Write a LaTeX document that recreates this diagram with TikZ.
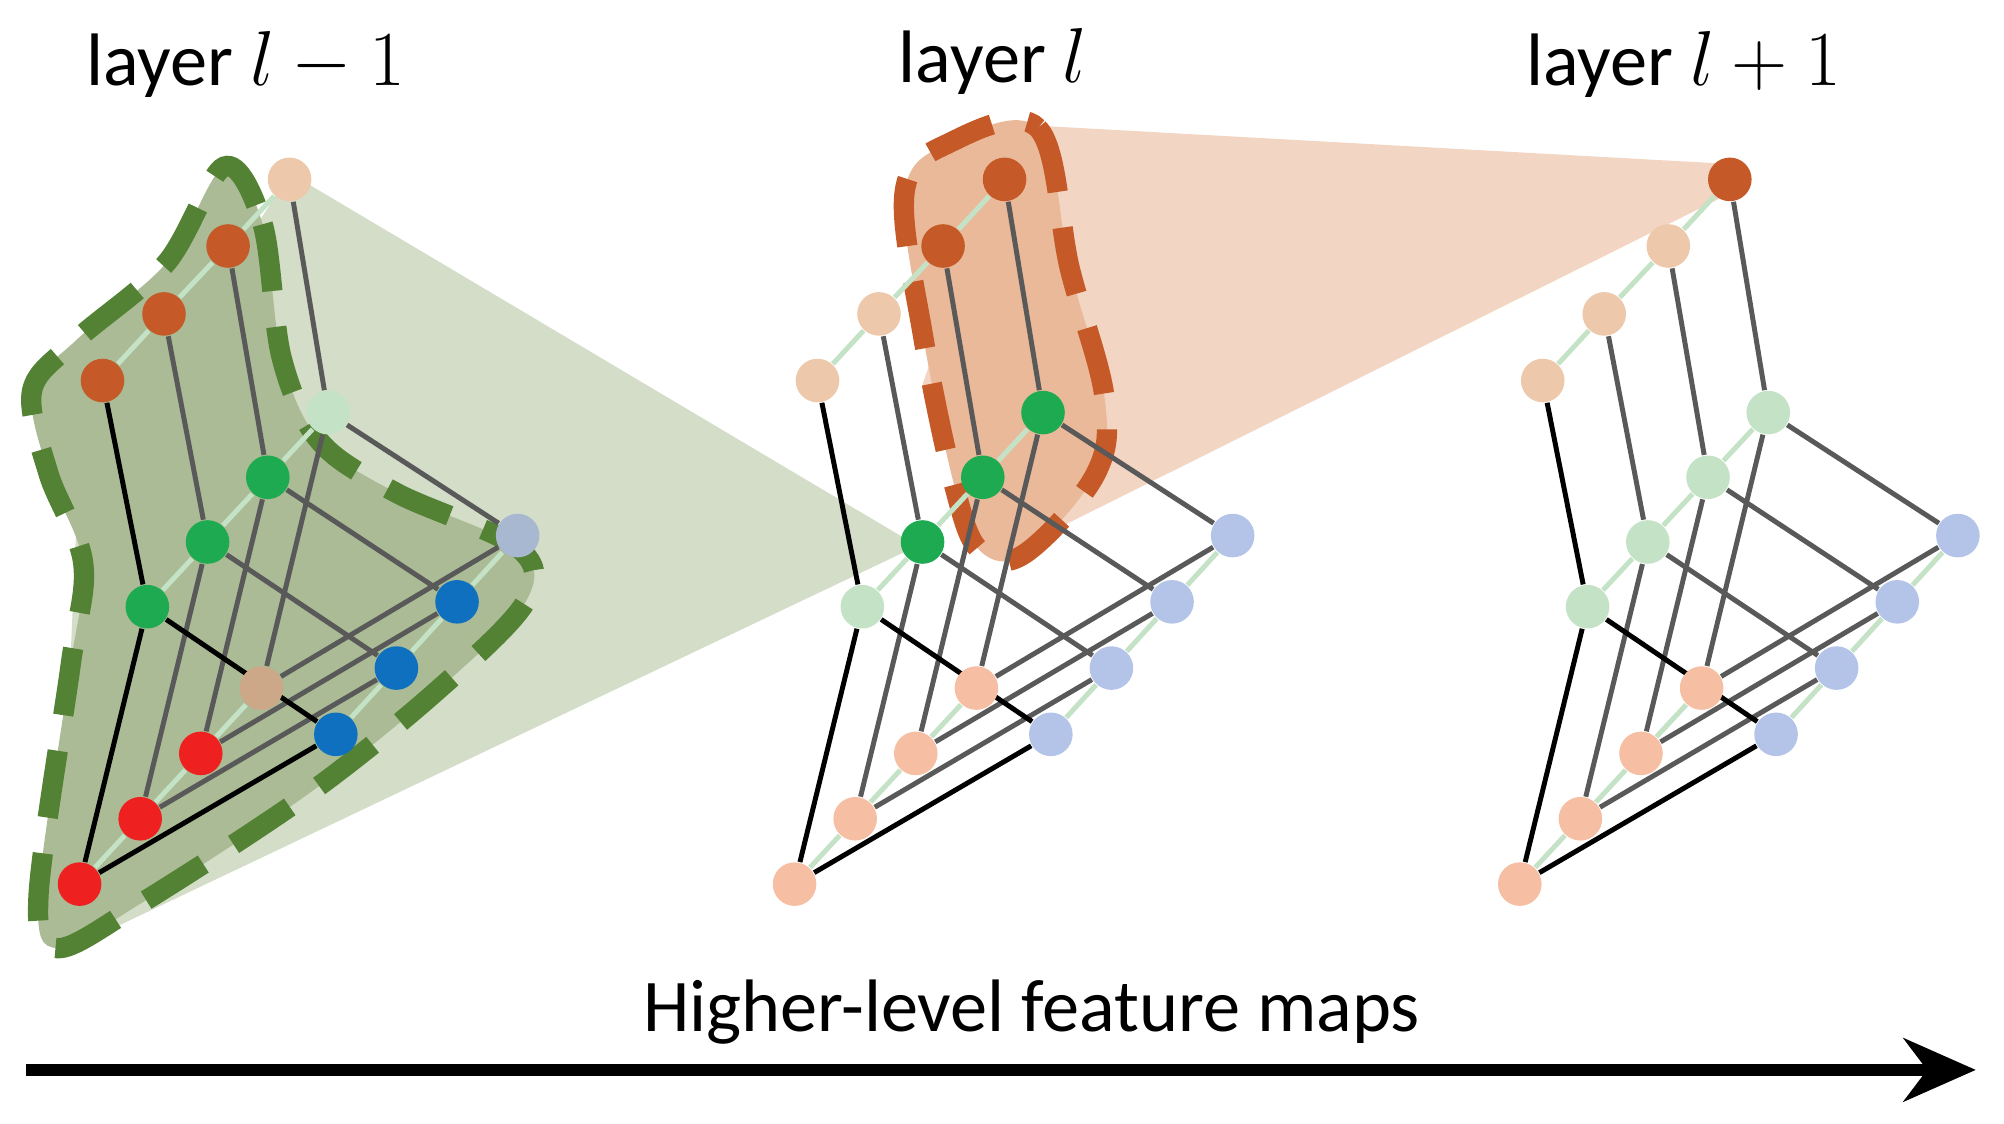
\documentclass[tikz,border=0pt]{standalone}
\usepackage{fontspec}
\setmainfont{Carlito}
\usetikzlibrary{arrows.meta,backgrounds}
\definecolor{OR}{HTML}{C55A28}\definecolor{PE}{HTML}{EDC8AA}
\definecolor{GR}{HTML}{1DAA50}\definecolor{LG}{HTML}{C4E2C6}
\definecolor{BL}{HTML}{1070C0}\definecolor{LB}{HTML}{B4C4E8}
\definecolor{RE}{HTML}{EE2020}\definecolor{PR}{HTML}{F6BFA4}
\definecolor{TA}{HTML}{CCA888}\definecolor{GB}{HTML}{A8B8D0}
\definecolor{LGR}{HTML}{D3DDC8}\definecolor{DGR}{HTML}{AABB95}\definecolor{DG}{HTML}{548235}
\definecolor{LOR}{HTML}{F2D5C2}\definecolor{MOR}{HTML}{E9B99A}
\tikzset{pt/.style={circle,minimum size=0.34cm,inner sep=0pt,fill=#1},
 ed/.style={line width=1.1pt,draw=black!65},
 edb/.style={line width=1.1pt,draw=black},
 ch/.style={line width=1.1pt,draw=LG},
 blob/.style={line width=4.5pt,dash pattern=on 15pt off 8pt}}
\newcommand\lay[6]{%
 \foreach \c [count=\i] in {#3}{\pgfmathsetmacro\x{#2+(226-48*(\i-1)-(\i>2)*2)}\pgfmathsetmacro\y{140+52*(\i-1)+(\i>2)*1}\node[pt=\c] (#1t\i) at (\x,\y) {};}
 \foreach \c [count=\i] in {#4}{\pgfmathsetmacro\x{#2+256-47*(\i-1)}\pgfmathsetmacro\y{322+50.5*(\i-1)}\node[pt=\c] (#1g\i) at (\x,\y) {};}
 \foreach \c [count=\i] in {#5}{\pgfmathsetmacro\x{#2+404-47.3*(\i-1)}\pgfmathsetmacro\y{418+51.7*(\i-1)}\node[pt=\c] (#1b\i) at (\x,\y) {};}
 \foreach \c [count=\i] in {#6}{\pgfmathsetmacro\x{#2+204-47.3*(\i-1)}\pgfmathsetmacro\y{537+51*(\i-1)}\node[pt=\c] (#1r\i) at (\x,\y) {};}
 \begin{scope}[on background layer]
 \foreach \r in {t,g,b,r}{\draw[ch] (#1\r1)--(#1\r2)--(#1\r3)--(#1\r4);}
 \foreach \i in {1,2,3}{\draw[ed] (#1t\i)--(#1g\i)--(#1r\i)--(#1b\i)--(#1g\i);}
 \draw[edb] (#1t4)--(#1g4)--(#1r4)--(#1b4)--(#1g4);
 \end{scope}}
\begin{document}
\begin{tikzpicture}[x=0.01cm,y=-0.01cm]
\useasboundingbox (0,0) rectangle (1564,877);
\begin{scope}[on background layer]
\fill[LGR] (226,135) -- (716,426) -- (45,745) -- (60,400) -- cycle;
\fill[LOR] (790,97) -- (1350,128) -- (1352,150) -- (790,430) -- (720,300) -- cycle;
\fill[DGR,draw=DG,blob]
 plot[smooth cycle,tension=0.55] coordinates{(175,130) (205,175) (220,280) (250,345) (310,385) (405,428) (410,470) (340,540) (240,620) (110,705) (45,740) (30,700) (55,520) (65,440) (38,370) (25,305) (60,265) (130,205)};
\fill[MOR,draw=OR,blob]
 plot[smooth cycle,tension=0.6] coordinates{(740,112) (810,100) (835,210) (862,310) (855,370) (800,432) (765,430) (745,380) (720,260) (706,150)};
\end{scope}
\lay{a}{0}{PE,OR,OR,OR}{LG,GR,GR,GR}{GB,BL,BL,BL}{TA,RE,RE,RE}
\lay{b}{558}{OR,OR,PE,PE}{GR,GR,GR,LG}{LB,LB,LB,LB}{PR,PR,PR,PR}
\lay{c}{1124}{OR,PE,PE,PE}{LG,LG,LG,LG}{LB,LB,LB,LB}{PR,PR,PR,PR}
\tikzset{lab/.style={font=\fontsize{16.5}{20}\selectfont}}
\node[lab] (t1) at (192,50) {layer $l-1$};
\node[lab] (t2) at (775,48) {layer $l$};
\node[lab] (t3) at (1314,50) {layer $l+1$};
\node[lab] (t4) at (805,790) {Higher-level feature maps};
\coordinate (s) at (20,835); \coordinate (e) at (1542,835);
\draw[line width=2.6pt,-{Stealth[length=16pt,width=14pt]}] (s)--(e);
\end{tikzpicture}
\end{document}
